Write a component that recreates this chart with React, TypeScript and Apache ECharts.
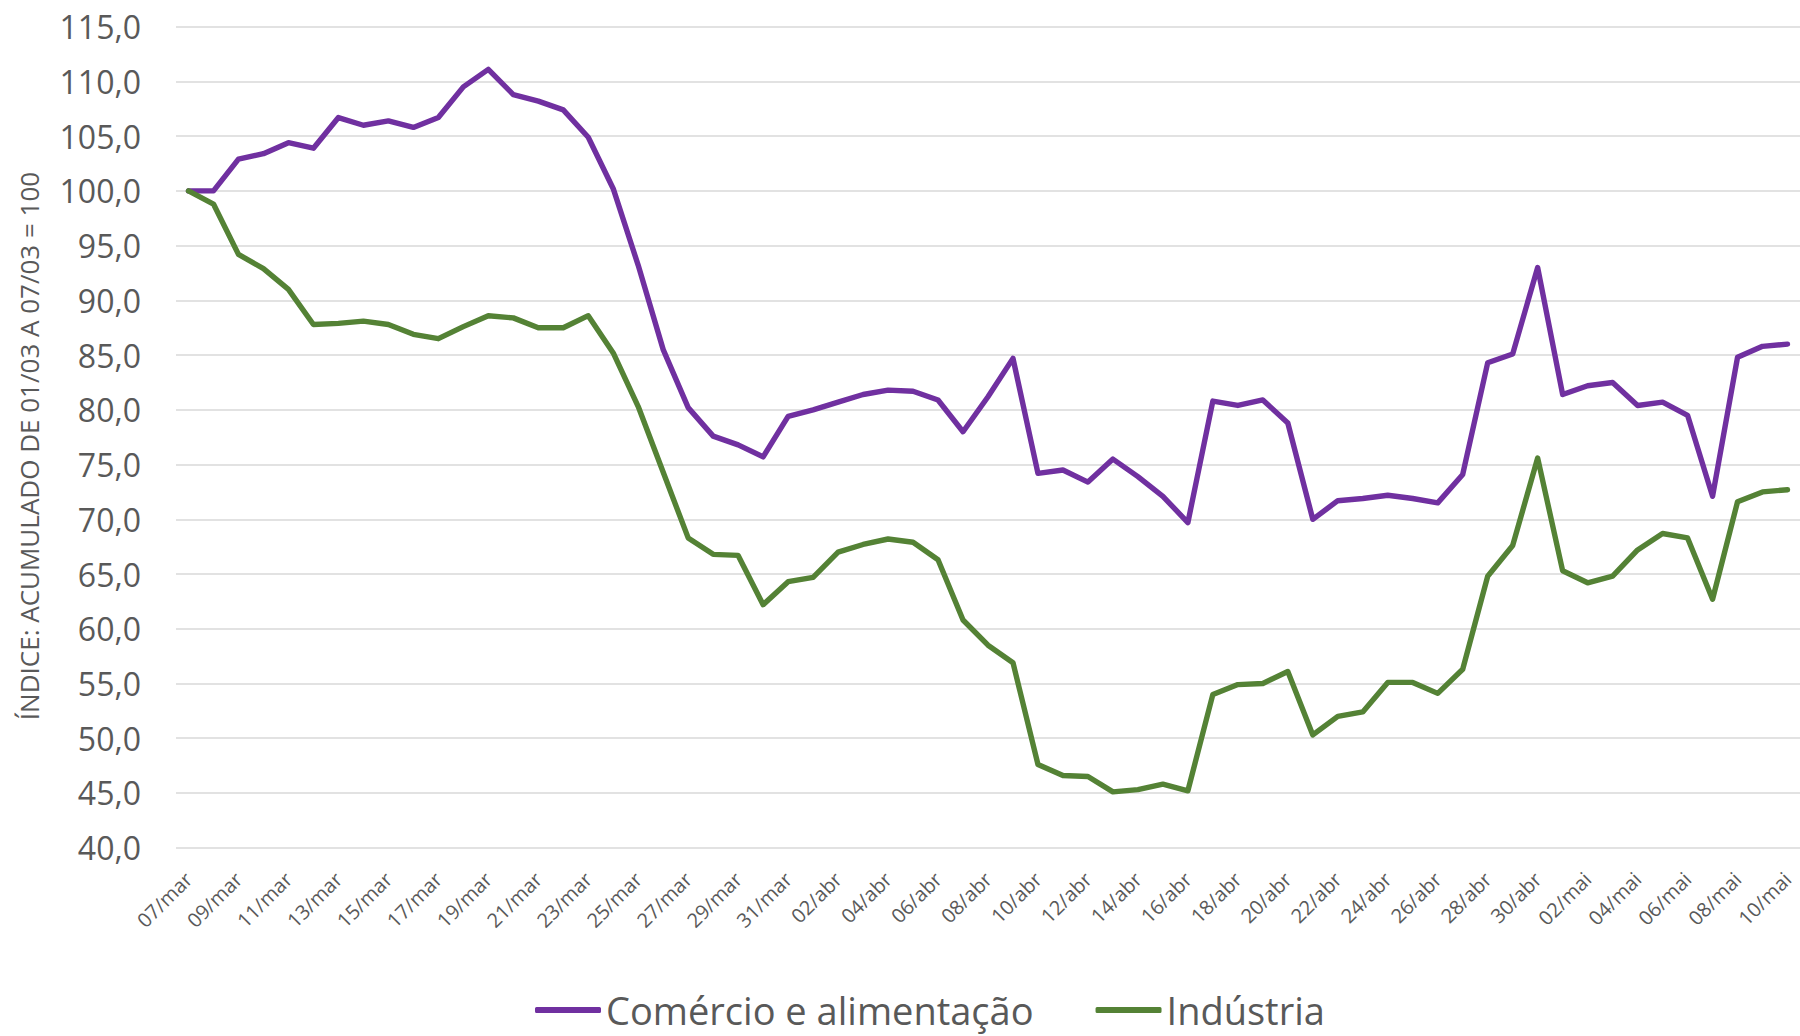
import React, { useEffect, useRef } from "react";
import * as echarts from "echarts";

const categories = [
  "07/mar","08/mar","09/mar","10/mar","11/mar","12/mar","13/mar","14/mar","15/mar","16/mar",
  "17/mar","18/mar","19/mar","20/mar","21/mar","22/mar","23/mar","24/mar","25/mar","26/mar",
  "27/mar","28/mar","29/mar","30/mar","31/mar","01/abr","02/abr","03/abr","04/abr","05/abr",
  "06/abr","07/abr","08/abr","09/abr","10/abr","11/abr","12/abr","13/abr","14/abr","15/abr",
  "16/abr","17/abr","18/abr","19/abr","20/abr","21/abr","22/abr","23/abr","24/abr","25/abr",
  "26/abr","27/abr","28/abr","29/abr","30/abr","01/mai","02/mai","03/mai","04/mai","05/mai",
  "06/mai","07/mai","08/mai","09/mai","10/mai",
];

const comercio = [
  100.0, 100.0, 102.9, 103.4, 104.4, 103.9, 106.7, 106.0, 106.4, 105.8,
  106.7, 109.5, 111.1, 108.8, 108.2, 107.4, 104.9, 100.2, 93.2, 85.5,
  80.2, 77.6, 76.8, 75.7, 79.4, 80.0, 80.7, 81.4, 81.8, 81.7,
  80.9, 78.0, 81.2, 84.7, 74.2, 74.5, 73.4, 75.5, 73.9, 72.1,
  69.7, 80.8, 80.4, 80.9, 78.8, 70.0, 71.7, 71.9, 72.2, 71.9,
  71.5, 74.1, 84.3, 85.1, 93.0, 81.4, 82.2, 82.5, 80.4, 80.7,
  79.5, 72.1, 84.8, 85.8, 86.0,
];

const industria = [
  100.0, 98.8, 94.2, 92.9, 91.0, 87.8, 87.9, 88.1, 87.8, 86.9,
  86.5, 87.6, 88.6, 88.4, 87.5, 87.5, 88.6, 85.2, 80.3, 74.3,
  68.3, 66.8, 66.7, 62.2, 64.3, 64.7, 67.0, 67.7, 68.2, 67.9,
  66.3, 60.8, 58.5, 56.9, 47.6, 46.6, 46.5, 45.1, 45.3, 45.8,
  45.2, 54.0, 54.9, 55.0, 56.1, 50.3, 52.0, 52.4, 55.1, 55.1,
  54.1, 56.3, 64.8, 67.6, 75.6, 65.3, 64.2, 64.8, 67.2, 68.7,
  68.3, 62.7, 71.6, 72.5, 72.7,
];

const seriesNames = ["Comércio e alimentação", "Indústria"];
const yAxisTitle = "ÍNDICE: ACUMULADO DE 01/03 A 07/03 = 100";

const FONT = "'Open Sans', 'Noto Sans', sans-serif";
const TEXT = "#595959";

export default function App() {
  const ref = useRef<HTMLDivElement>(null);

  useEffect(() => {
    if (!ref.current) return;
    const chart = echarts.init(ref.current, null, { renderer: "svg" });
    chart.setOption({
      animation: false,
      backgroundColor: "#ffffff",
      grid: { left: 176, right: -6, top: 26.7, bottom: 1036 - 847.7, containLabel: false },
      xAxis: {
        type: "category",
        data: categories,
        boundaryGap: true,
        axisLine: { show: false },
        axisTick: { show: false },
        axisLabel: {
          interval: 1,
          rotate: 45,
          margin: 28,
          color: TEXT,
          fontFamily: FONT,
          fontSize: 20,
        },
      },
      yAxis: {
        type: "value",
        min: 40,
        max: 115,
        interval: 5,
        axisLine: { show: false },
        axisTick: { show: false },
        splitLine: { lineStyle: { color: "#d9d9d9", width: 1.5 } },
        axisLabel: {
          margin: 35,
          color: TEXT,
          fontFamily: FONT,
          fontSize: 32,
          formatter: (v: number) => v.toFixed(1).replace(".", ","),
        },
      },
      legend: {
        data: seriesNames,
        left: 530,
        top: 986,
        icon: "roundRect",
        itemWidth: 66,
        itemHeight: 6,
        itemGap: 62,
        textStyle: { color: TEXT, fontFamily: FONT, fontSize: 38 },
      },
      graphic: [
        {
          type: "text",
          x: 29,
          y: 446,
          rotation: Math.PI / 2,
          style: {
            text: yAxisTitle,
            fill: TEXT,
            font: `26px ${FONT}`,
            align: "center",
            verticalAlign: "middle",
          },
        },
      ],
      series: [
        {
          name: seriesNames[0],
          type: "line",
          data: comercio,
          symbol: "none",
          lineStyle: { color: "#7030A0", width: 5.4, join: "round", cap: "round" },
          itemStyle: { color: "#7030A0" },
        },
        {
          name: seriesNames[1],
          type: "line",
          data: industria,
          symbol: "none",
          lineStyle: { color: "#548235", width: 5.4, join: "round", cap: "round" },
          itemStyle: { color: "#548235" },
        },
      ],
    });
    return () => chart.dispose();
  }, []);

  return (
    <div
      ref={ref}
      style={{ position: "fixed", left: 0, top: 0, width: 1800, height: 1036, background: "#fff" }}
    />
  );
}
